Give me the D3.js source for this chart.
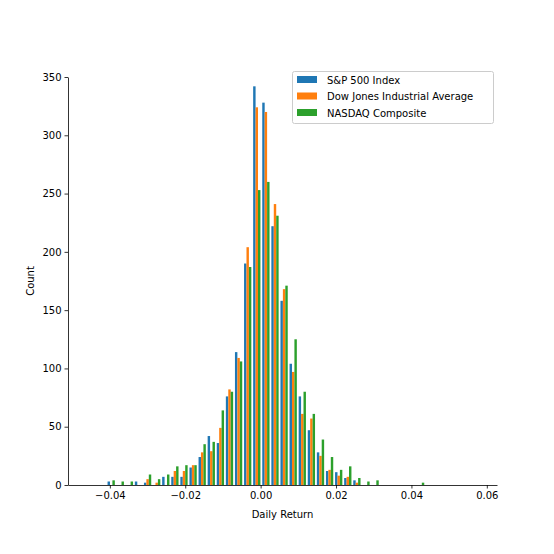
<!DOCTYPE html>
<html><head><meta charset="utf-8">
<script src="https://cdn.jsdelivr.net/npm/d3@7"></script>
<style>body{margin:0;background:#fff}text{font-family:"DejaVu Sans",sans-serif}</style>
</head><body><svg id="c" width="554" height="554"></svg>
<script>
const seriesNames = ["S&P 500 Index","Dow Jones Industrial Average","NASDAQ Composite"];
const colors = ["#1f77b4","#ff7f0e","#2ca02c"];
const binStart = -0.04085, binWidth = 0.002414; // first bin left edge, bin width
const sp500 = [3,0,0,3,2,0,7,7,7,15,24,42,36,76,114,190,342,328,222,158,104,76,47,28,12,11,6,4,0,0,0,0,0,0,0];
const dow   = [0,0,0,0,5,2,0,12,12,17,28,29,49,82,109,204,324,320,241,168,97,61,57,25,13,8,7,2,0,0,0,0,0,0,0];
const nasdaq= [4,3,3,0,9,5,9,16,17,17,35,37,64,80,106,187,253,260,231,171,125,80,61,39,24,13,16,6,3,4,0,0,0,0,2];
const xTicks = [-0.04,-0.02,0.00,0.02,0.04,0.06];
const yTicks = [0,50,100,150,200,250,300,350];
const data = [sp500,dow,nasdaq];

const svg = d3.select("#c");
const x = d3.scaleLinear().domain([-0.0511,0.0627]).range([68,497]);
const y = d3.scaleLinear().domain([0,350]).range([485,77]);
const g = svg.append("g");
data.forEach((vals,s)=>{
  g.selectAll(null).data(vals).enter().append("rect")
   .attr("x",(d,i)=>{const l=binStart+i*binWidth; return x(l+binWidth*0.1+s*binWidth*0.8/3);})
   .attr("width",x(binWidth*0.8/3)-x(0))
   .attr("y",d=>y(d)).attr("height",d=>y(0)-y(d))
   .attr("fill",colors[s]);
});
const xa = svg.append("g").attr("transform","translate(0,485)")
  .call(d3.axisBottom(x).tickValues(xTicks).tickFormat(d3.format(".2f")).tickSize(3.5).tickSizeOuter(0));
const ya = svg.append("g").attr("transform","translate(68,0)")
  .call(d3.axisLeft(y).tickValues(yTicks).tickSize(3.5).tickSizeOuter(0));
[xa,ya].forEach(a=>{a.selectAll("text").attr("font-size",10).attr("fill","#000").style("font-family","DejaVu Sans");
  a.select(".domain").attr("stroke","#000").attr("stroke-width",0.8);
  a.selectAll(".tick line").attr("stroke","#000").attr("stroke-width",0.8);});
xa.selectAll("text").text(d=>d3.format(".2f")(d).replace("-","\u2212"));
svg.append("text").attr("x",282.5).attr("y",518).attr("text-anchor","middle").attr("font-size",10).text("Daily Return");
svg.append("text").attr("transform","translate(34,281) rotate(-90)").attr("text-anchor","middle").attr("font-size",10).text("Count");
const lg = svg.append("g");
lg.append("rect").attr("x",292.5).attr("y",71.5).attr("width",201).attr("height",52).attr("rx",2)
  .attr("fill","#fff").attr("fill-opacity",0.8).attr("stroke","#ccc");
seriesNames.forEach((n,i)=>{
  lg.append("rect").attr("x",297).attr("y",76+i*16.5).attr("width",20).attr("height",7).attr("fill",colors[i]);
  lg.append("text").attr("x",327).attr("y",83.5+i*16.5).attr("font-size",10).text(n);
});
</script></body></html>
